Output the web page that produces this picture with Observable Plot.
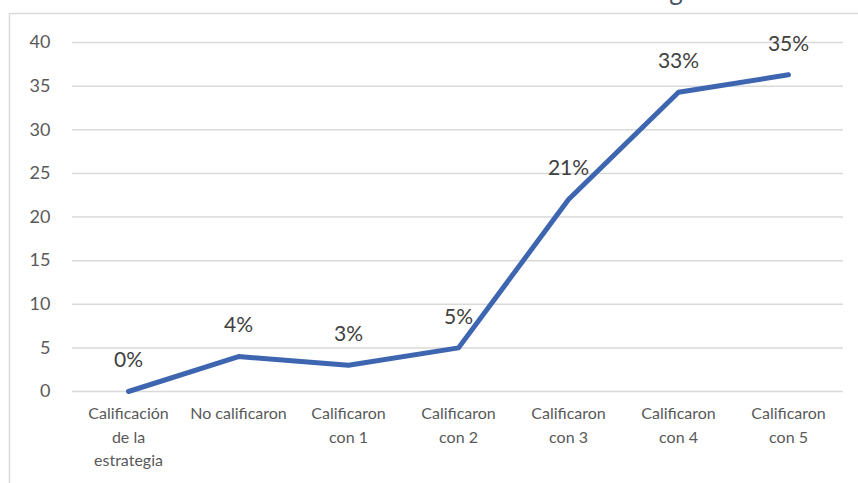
<!DOCTYPE html>
<html>
<head>
<meta charset="utf-8">
<script src="https://cdn.jsdelivr.net/npm/d3@7"></script>
<script src="https://cdn.jsdelivr.net/npm/@observablehq/plot@0.6"></script>
<style>
  html, body { margin: 0; padding: 0; background: #fff; }
  #chart svg { display: block; }
</style>
</head>
<body>
<div id="chart"></div>
<script>
const categories = [
  "Calificación\nde la\nestrategia",
  "No calificaron",
  "Calificaron\ncon 1",
  "Calificaron\ncon 2",
  "Calificaron\ncon 3",
  "Calificaron\ncon 4",
  "Calificaron\ncon 5"
];
const values = [0, 4, 3, 5, 22, 34.3, 36.3];
const labels = ["0%", "4%", "3%", "5%", "21%", "33%", "35%"];
const yTicks = [0, 5, 10, 15, 20, 25, 30, 35, 40];
const titleText = "Calificación de la estrategia";

const data = categories.map((c, i) => ({cat: c, value: values[i], label: labels[i]}));

const plot = Plot.plot({
  width: 858,
  height: 483,
  marginLeft: 72,
  marginRight: 15,
  marginTop: 42,
  marginBottom: 92,
  style: {fontFamily: "Lato, 'Open Sans', sans-serif", background: "#fff"},
  x: {type: "point", domain: categories, padding: 0.5},
  y: {domain: [0, 40]},
  marks: [
    Plot.ruleY(yTicks, {stroke: "#d9d9d9", strokeWidth: 1.5}),
    Plot.axisY(yTicks, {tickSize: 0, tickPadding: 22, fontSize: 18, fill: "#595959", label: null}),
    Plot.axisX({tickSize: 0, tickPadding: 11, fontSize: 16, fill: "#595959", lineHeight: 1.47, label: null}),
    Plot.line(data, {x: "cat", y: "value", stroke: "#3e66b0", strokeWidth: 5, strokeLinejoin: "round", strokeLinecap: "round"}),
    Plot.text(data, {x: "cat", y: "value", text: "label", dy: -31, fontSize: 21, fill: "#404040"})
  ]
});

const svg = d3.select(plot);
svg.append("rect")
  .attr("x", 9.5).attr("y", 13.5)
  .attr("width", 900).attr("height", 500)
  .attr("fill", "none").attr("stroke", "#d9d9d9").attr("stroke-width", 1.5);
svg.append("text")
  .attr("x", 702).attr("y", 0)
  .attr("text-anchor", "end")
  .attr("font-size", 26)
  .attr("fill", "#44546a")
  .text(titleText);

document.getElementById("chart").appendChild(plot);
</script>
</body>
</html>
